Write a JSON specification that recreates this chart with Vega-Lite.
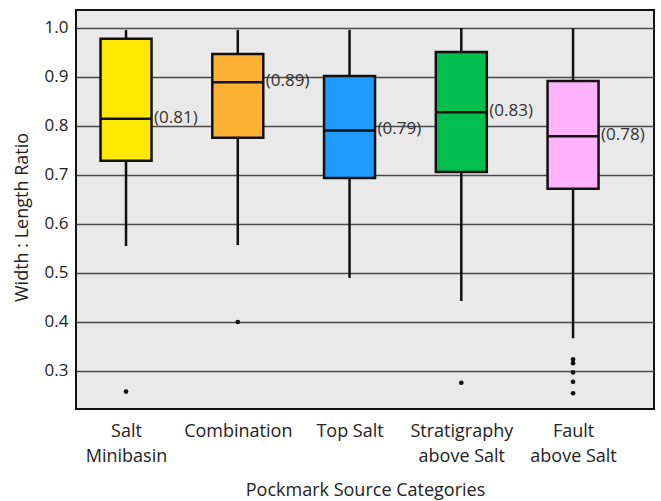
{
  "$schema": "https://vega.github.io/schema/vega-lite/v6.json",
  "width": 578,
  "height": 399,
  "autosize": {"type": "none"},
  "padding": {"left": 76, "top": 10, "right": 7, "bottom": 92},
  "background": "white",
  "config": {
    "view": {"fill": "#e9e9e9", "stroke": "#111111", "strokeWidth": 2},
    "font": "Open Sans"
  },
  "datasets": {
    "boxes": [
      {"category": "Salt Minibasin", "lower": 0.555, "q1": 0.729, "median": 0.815, "q3": 0.978, "upper": 0.996, "label": "(0.81)"},
      {"category": "Combination", "lower": 0.557, "q1": 0.776, "median": 0.889, "q3": 0.947, "upper": 0.996, "label": "(0.89)"},
      {"category": "Top Salt", "lower": 0.490, "q1": 0.694, "median": 0.791, "q3": 0.902, "upper": 0.996, "label": "(0.79)"},
      {"category": "Stratigraphy above Salt", "lower": 0.443, "q1": 0.706, "median": 0.828, "q3": 0.951, "upper": 1.0, "label": "(0.83)"},
      {"category": "Fault above Salt", "lower": 0.367, "q1": 0.672, "median": 0.779, "q3": 0.892, "upper": 0.999, "label": "(0.78)"}
    ],
    "outliers": [
      {"category": "Salt Minibasin", "value": 0.258},
      {"category": "Combination", "value": 0.400},
      {"category": "Stratigraphy above Salt", "value": 0.276},
      {"category": "Fault above Salt", "value": 0.3235},
      {"category": "Fault above Salt", "value": 0.316},
      {"category": "Fault above Salt", "value": 0.297},
      {"category": "Fault above Salt", "value": 0.278},
      {"category": "Fault above Salt", "value": 0.2545}
    ]
  },
  "encoding": {
    "x": {
      "field": "category",
      "type": "nominal",
      "sort": ["Salt Minibasin", "Combination", "Top Salt", "Stratigraphy above Salt", "Fault above Salt"],
      "scale": {"type": "point", "padding": 0.586, "align": 0.382},
      "axis": {
        "title": "Pockmark Source Categories",
        "titleFontSize": 18,
        "titleFontWeight": "normal",
        "titleColor": "#222222",
        "titleBaseline": "alphabetic",
        "titleY": 86,
        "labelExpr": "datum.value == 'Salt Minibasin' ? ['Salt', 'Minibasin'] : (datum.value == 'Stratigraphy above Salt' ? ['Stratigraphy', 'above Salt'] : (datum.value == 'Fault above Salt' ? ['Fault', 'above Salt'] : datum.value))",
        "labelFontSize": 18,
        "labelLineHeight": 25,
        "labelColor": "#222222",
        "labelAngle": 0,
        "labelPadding": 13,
        "ticks": false,
        "domain": false,
        "grid": false
      }
    }
  },
  "layer": [
    {
      "data": {"name": "boxes"},
      "mark": {"type": "rule", "stroke": "#111111", "strokeWidth": 2.5},
      "encoding": {
        "y": {
          "field": "lower",
          "type": "quantitative",
          "title": "Width : Length Ratio",
          "scale": {"domain": [0.2224, 1.0367], "nice": false, "zero": false},
          "axis": {
            "values": [0.3, 0.4, 0.5, 0.6, 0.7, 0.8, 0.9, 1.0],
            "format": ".1f",
            "title": "Width : Length Ratio",
            "titleFontSize": 18,
            "titleFontWeight": "normal",
            "titleColor": "#222222",
            "titleX": -54,
            "titleY": 207,
            "titleBaseline": "middle",
            "labelFontSize": 17,
            "labelColor": "#222222",
            "labelPadding": 8,
            "ticks": false,
            "domain": false,
            "grid": true,
            "gridColor": "#4a4a4a",
            "gridWidth": 1.3
          }
        },
        "y2": {"field": "upper"}
      }
    },
    {
      "data": {"name": "boxes"},
      "mark": {"type": "bar", "size": 51, "stroke": "#111111", "strokeWidth": 2.5},
      "encoding": {
        "y": {"field": "q1", "type": "quantitative", "title": "Width : Length Ratio"},
        "y2": {"field": "q3"},
        "color": {
          "field": "category",
          "type": "nominal",
          "scale": {
            "domain": ["Salt Minibasin", "Combination", "Top Salt", "Stratigraphy above Salt", "Fault above Salt"],
            "range": ["#ffe800", "#fdb133", "#1f9bff", "#00be50", "#ffb3ff"]
          },
          "legend": null
        }
      }
    },
    {
      "data": {"name": "boxes"},
      "mark": {"type": "tick", "size": 51, "thickness": 2.5, "color": "#111111", "opacity": 1},
      "encoding": {
        "y": {"field": "median", "type": "quantitative", "title": "Width : Length Ratio"}
      }
    },
    {
      "data": {"name": "boxes"},
      "mark": {"type": "text", "align": "left", "baseline": "middle", "dx": 28, "dy": -1, "fontSize": 17, "color": "#333333"},
      "encoding": {
        "y": {"field": "median", "type": "quantitative", "title": "Width : Length Ratio"},
        "text": {"field": "label"}
      }
    },
    {
      "data": {"name": "outliers"},
      "mark": {"type": "circle", "size": 22, "color": "#111111", "opacity": 1},
      "encoding": {
        "y": {"field": "value", "type": "quantitative", "title": "Width : Length Ratio"}
      }
    }
  ]
}
